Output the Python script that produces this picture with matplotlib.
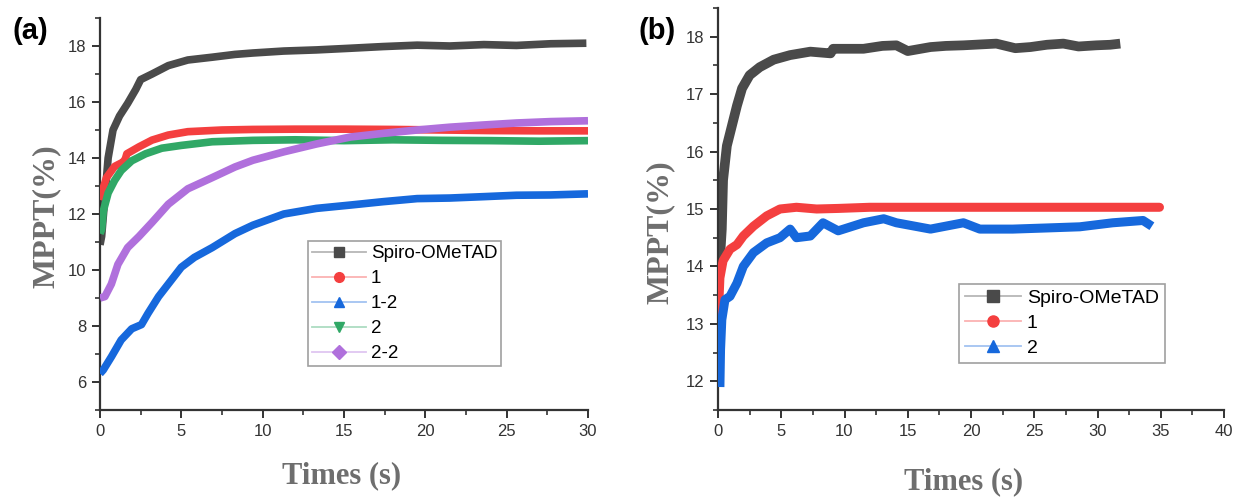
import matplotlib
matplotlib.use("Agg")
import matplotlib.pyplot as plt
from matplotlib.lines import Line2D
from matplotlib.legend_handler import HandlerTuple
from matplotlib.ticker import MultipleLocator

# ---------------- data: panel (a) ----------------
t_spiro_a = [0.0, 0.1, 0.3, 0.5, 0.8, 1.2, 1.7, 2.2, 2.5, 3.2, 4.2, 5.4, 6.9, 8.3, 9.4,
             11.3, 13.3, 15.4, 17.4, 19.5, 21.5, 23.6, 25.6, 27.7, 29.9]
v_spiro_a = [10.9, 11.2, 12.6, 14.0, 15.0, 15.5, 15.95, 16.45, 16.8, 17.0, 17.3, 17.5, 17.6,
             17.7, 17.75, 17.82, 17.86, 17.92, 17.98, 18.03, 18.0, 18.05, 18.02, 18.08, 18.1]

t_1_a = [0.0, 0.1, 0.4, 0.9, 1.4, 1.55, 1.65, 2.4, 3.2, 4.2, 5.4, 7.5, 9.4, 12, 15, 18, 21, 24, 27, 30]
v_1_a = [12.5, 12.75, 13.3, 13.7, 13.85, 13.95, 14.15, 14.4, 14.64, 14.82, 14.94, 15.0, 15.02,
         15.03, 15.03, 15.02, 15.0, 14.98, 14.97, 14.97]

t_12_a = [0.0, 0.2, 0.7, 1.3, 1.95, 2.55, 2.95, 3.6, 4.2, 5.0, 5.8, 6.9, 8.3, 9.4, 11.3, 13.3,
          15.4, 17.4, 19.5, 21.5, 23.6, 25.6, 27.7, 30]
v_12_a = [6.3, 6.43, 6.9, 7.5, 7.9, 8.05, 8.45, 9.05, 9.5, 10.1, 10.45, 10.8, 11.3, 11.6, 12.0,
          12.2, 12.32, 12.44, 12.55, 12.57, 12.62, 12.67, 12.68, 12.72]

t_2_a = [0.0, 0.1, 0.2, 0.5, 0.9, 1.3, 1.95, 2.8, 3.8, 5.0, 6.9, 9.4, 12, 15, 18, 21, 24, 27, 30]
v_2_a = [11.3, 11.45, 12.1, 12.75, 13.2, 13.55, 13.9, 14.15, 14.35, 14.45, 14.58, 14.63, 14.65,
         14.62, 14.65, 14.63, 14.62, 14.6, 14.62]

t_22_a = [0.0, 0.3, 0.7, 1.1, 1.7, 2.4, 3.2, 4.2, 5.4, 6.9, 8.3, 9.4, 11.3, 13.3, 15.4, 17.4,
          19.5, 21.5, 23.6, 25.6, 27.7, 30]
v_22_a = [9.0, 9.05, 9.5, 10.2, 10.8, 11.2, 11.7, 12.35, 12.9, 13.3, 13.68, 13.92, 14.22, 14.5,
          14.75, 14.88, 15.0, 15.1, 15.18, 15.25, 15.3, 15.33]

labels_a = ["Spiro-OMeTAD", "1", "1-2", "2", "2-2"]

# ---------------- data: panel (b) ----------------
t_spiro_b = [0.05, 0.15, 0.3, 0.4, 0.7, 1.1, 1.5, 1.9, 2.5, 3.3, 4.4, 5.7, 7.3, 8.9, 9.1, 11.5,
             13.0, 14.1, 15.0, 16.8, 18.0, 19.4, 22.0, 23.5, 24.7, 26.0, 27.3, 28.5, 29.9, 31.0, 31.8]
v_spiro_b = [14.0, 14.1, 14.65, 15.5, 16.1, 16.45, 16.8, 17.1, 17.33, 17.47, 17.6, 17.68, 17.74,
             17.71, 17.79, 17.79, 17.84, 17.85, 17.75, 17.82, 17.84, 17.85, 17.88, 17.8, 17.82,
             17.86, 17.88, 17.83, 17.85, 17.86, 17.88]

t_1_b = [0.0, 0.15, 0.4, 0.95, 1.5, 2.0, 2.8, 3.85, 4.9, 6.2, 7.8, 9.5, 12, 15, 18, 21, 24, 27,
         30, 33, 34.9]
v_1_b = [13.0, 13.8, 14.1, 14.3, 14.38, 14.53, 14.7, 14.88, 15.0, 15.03, 15.0, 15.01, 15.03,
         15.03, 15.03, 15.03, 15.03, 15.03, 15.03, 15.03, 15.03]

t_2_b = [0.15, 0.2, 0.3, 0.55, 0.95, 1.5, 2.0, 2.8, 3.85, 4.9, 5.7, 6.2, 7.3, 8.3, 9.5, 11.5,
         13.1, 14.1, 16.8, 19.4, 20.7, 23.3, 26.0, 28.6, 31.2, 33.6, 34.3]
v_2_b = [11.9, 12.55, 13.07, 13.42, 13.48, 13.71, 14.0, 14.24, 14.41, 14.5, 14.65, 14.5, 14.53,
         14.76, 14.62, 14.76, 14.83, 14.76, 14.65, 14.76, 14.65, 14.65, 14.67, 14.69, 14.76,
         14.8, 14.7]

labels_b = ["Spiro-OMeTAD", "1", "2"]

# ---------------- style ----------------
C_SPIRO = "#4a4a4a"
C_RED = "#f43f3f"
C_BLUE = "#1668dc"
C_GREEN = "#30a866"
C_PURPLE = "#b070dc"
SPINE = "#333333"
LABEL_GRAY = "#6e6e6e"

plt.rcParams["font.family"] = ["Liberation Sans", "DejaVu Sans"]

fig = plt.figure(figsize=(12.37, 4.97), dpi=100)
W, H = 1237, 497
ax_a = fig.add_axes([100 / W, 1 - 410 / H, (588 - 100) / W, (410 - 18) / H])
ax_b = fig.add_axes([718 / W, 1 - 410 / H, (1224 - 718) / W, (410 - 8) / H])


def style_axis(ax):
    for s in ["top", "right"]:
        ax.spines[s].set_visible(False)
    for s in ["left", "bottom"]:
        ax.spines[s].set_color(SPINE)
        ax.spines[s].set_linewidth(1.6)
    ax.tick_params(which="major", direction="out", length=6, width=1.4, color=SPINE,
                   labelsize=12, labelcolor="#333333", pad=4)
    ax.tick_params(which="minor", direction="out", length=3.5, width=1.2, color=SPINE)


lw = 5.5
ax_a.plot(t_spiro_a, v_spiro_a, color=C_SPIRO, lw=lw, solid_capstyle="butt", zorder=2)
ax_a.plot(t_1_a, v_1_a, color=C_RED, lw=lw, solid_capstyle="butt", zorder=3)
ax_a.plot(t_12_a, v_12_a, color=C_BLUE, lw=lw, solid_capstyle="butt", zorder=3)
ax_a.plot(t_2_a, v_2_a, color=C_GREEN, lw=lw, solid_capstyle="butt", zorder=4)
ax_a.plot(t_22_a, v_22_a, color=C_PURPLE, lw=lw, solid_capstyle="butt", zorder=5)

ax_a.set_xlim(0, 30)
ax_a.set_ylim(5, 19)
ax_a.xaxis.set_major_locator(MultipleLocator(5))
ax_a.xaxis.set_minor_locator(MultipleLocator(2.5))
ax_a.yaxis.set_major_locator(MultipleLocator(2))
ax_a.yaxis.set_minor_locator(MultipleLocator(1))
style_axis(ax_a)

lw_b = 7
ax_b.plot(t_spiro_b, v_spiro_b, color=C_SPIRO, lw=lw_b, solid_capstyle="butt", zorder=2)
ax_b.plot(t_1_b, v_1_b, color=C_RED, lw=6.5, solid_capstyle="round", zorder=3)
ax_b.plot(t_2_b, v_2_b, color=C_BLUE, lw=6.5, solid_capstyle="butt", zorder=4)
ax_b.set_xlim(0, 40)
ax_b.set_ylim(11.5, 18.5)
ax_b.xaxis.set_major_locator(MultipleLocator(5))
ax_b.xaxis.set_minor_locator(MultipleLocator(2.5))
ax_b.yaxis.set_major_locator(MultipleLocator(1))
ax_b.yaxis.set_minor_locator(MultipleLocator(0.5))
style_axis(ax_b)


def legend_handles(colors, markers, ms):
    hs = []
    for c, m in zip(colors, markers):
        line = Line2D([0], [0], color=c, lw=1.3, alpha=0.4)
        mark = Line2D([0], [0], ls="none", marker=m, markersize=ms,
                      markerfacecolor=c, markeredgecolor=c)
        hs.append((line, mark))
    return hs


hs_a = legend_handles([C_SPIRO, C_RED, C_BLUE, C_GREEN, C_PURPLE],
                      ["s", "o", "^", "v", "D"], 7)
leg_a = ax_a.legend(hs_a, labels_a, handler_map={tuple: HandlerTuple(ndivide=1)},
                    loc="lower left", bbox_to_anchor=(0.426, 0.112),
                    fontsize=13.5, frameon=True, fancybox=False, handlelength=2.9,
                    handletextpad=0.25, labelspacing=0.42, borderpad=0.2, borderaxespad=0)
leg_a.get_frame().set_edgecolor("#888888")
leg_a.get_frame().set_linewidth(1.2)

hs_b = legend_handles([C_SPIRO, C_RED, C_BLUE], ["s", "o", "^"], 8)
leg_b = ax_b.legend(hs_b, labels_b, handler_map={tuple: HandlerTuple(ndivide=1)},
                    loc="lower left", bbox_to_anchor=(0.476, 0.117),
                    fontsize=14, frameon=True, fancybox=False, handlelength=2.9,
                    handletextpad=0.3, labelspacing=0.38, borderpad=0.3, borderaxespad=0)
leg_b.get_frame().set_edgecolor("#888888")
leg_b.get_frame().set_linewidth(1.2)

# axis titles
lab_font = dict(family=["Liberation Serif", "DejaVu Serif"], fontweight="bold", color=LABEL_GRAY)
fig.text(46 / W, 1 - 216 / H, "MPPT(%)", rotation=90, ha="center", va="center", fontsize=23, **lab_font)
fig.text(660 / W, 1 - 232 / H, "MPPT(%)", rotation=90, ha="center", va="center", fontsize=23, **lab_font)
fig.text(342 / W, 1 - 476 / H, "Times (s)", ha="center", va="center", fontsize=22, **lab_font)
fig.text(964 / W, 1 - 482 / H, "Times (s)", ha="center", va="center", fontsize=22, **lab_font)

# panel labels
fig.text(12 / W, 1 - 31 / H, "(a)", ha="left", va="center", fontsize=21, fontweight="bold", color="black")
fig.text(638 / W, 1 - 31 / H, "(b)", ha="left", va="center", fontsize=21, fontweight="bold", color="black")

fig.savefig("out.png", dpi=100)
